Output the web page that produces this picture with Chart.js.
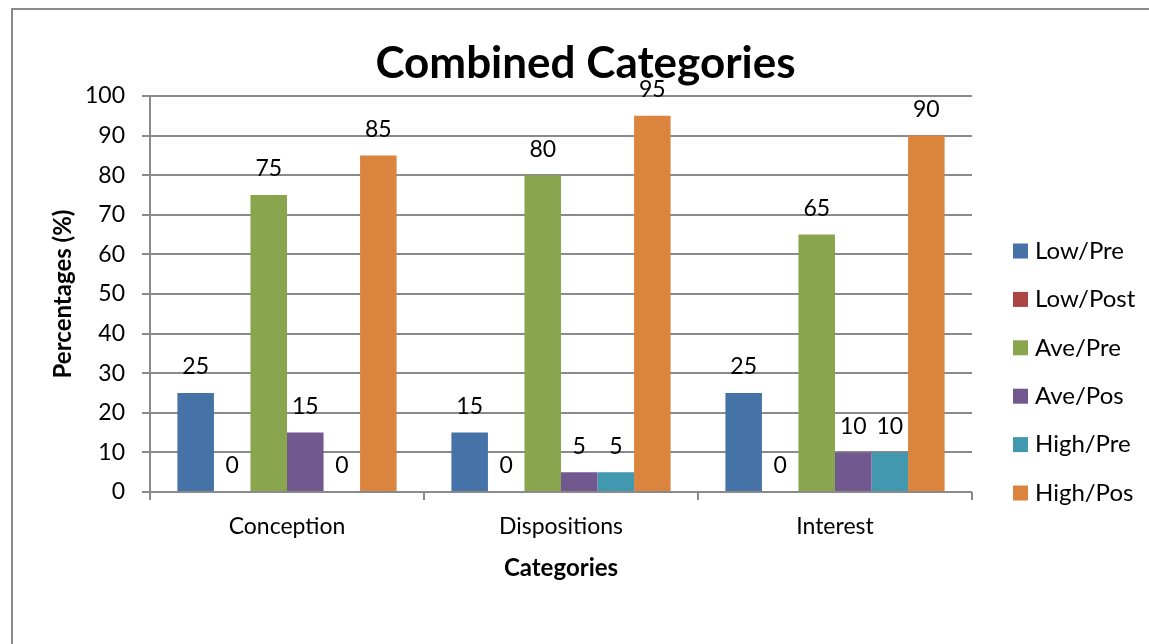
<!DOCTYPE html>
<html lang="en">
  <head>
    <meta charset="UTF-8" />
    <title>Combined Categories</title>
    <script src="https://cdn.jsdelivr.net/npm/chart.js@4.4.1/dist/chart.umd.min.js"></script>
    <style>
      body { margin: 0; background: #fff; }
      .wrap { position: relative; width: 1149px; height: 644px; overflow: hidden; }
      .frame { position: absolute; left: 11px; top: 8px; width: 1200px; height: 700px; border: 2px solid #8a8a8a; }
      canvas { position: absolute; left: 0; top: 0; }
    </style>
  </head>
  <body>
    <div class="wrap">
      <div class="frame"></div>
      <canvas id="chart" width="1149" height="644"></canvas>
    </div>
    <script>
      const categories = ["Conception", "Dispositions", "Interest"];
      const seriesNames = ["Low/Pre", "Low/Post", "Ave/Pre", "Ave/Pos", "High/Pre", "High/Pos"];
      const lowPre = [25, 15, 25];
      const lowPost = [0, 0, 0];
      const avePre = [75, 80, 65];
      const avePos = [15, 5, 10];
      const highPre = [0, 5, 10];
      const highPos = [85, 95, 90];
      const colors = ["#4572a7", "#aa4643", "#89a54e", "#71588f", "#4198af", "#db843d"];

      const FONT = "Lato";
      const gridColor = "#8a8a8a";

      // value labels above each bar
      const valueLabels = {
        id: "valueLabels",
        afterDatasetsDraw(chart) {
          const ctx = chart.ctx;
          ctx.save();
          ctx.font = "23px " + FONT;
          ctx.fillStyle = "#000";
          ctx.textAlign = "center";
          ctx.textBaseline = "middle";
          chart.data.datasets.forEach(function (ds, i) {
            chart.getDatasetMeta(i).data.forEach(function (bar, j) {
              ctx.fillText(String(ds.data[j]), bar.x, bar.y - 26);
            });
          });
          ctx.restore();
        },
      };

      // legend on the right, Excel style
      const sideLegend = {
        id: "sideLegend",
        afterDraw(chart) {
          const ctx = chart.ctx;
          ctx.save();
          ctx.font = "24px " + FONT;
          ctx.textBaseline = "middle";
          ctx.textAlign = "left";
          chart.data.datasets.forEach(function (ds, i) {
            const y = 251 + i * 48.4;
            ctx.fillStyle = ds.backgroundColor;
            ctx.fillRect(1013, y - 7.5, 15, 15);
            ctx.fillStyle = "#000";
            ctx.fillText(ds.label, 1035, y);
          });
          ctx.restore();
        },
      };

      const seriesData = [lowPre, lowPost, avePre, avePos, highPre, highPos];
      const datasets = seriesNames.map(function (name, i) {
        return {
          label: name,
          data: seriesData[i],
          backgroundColor: colors[i],
          borderWidth: 0,
          categoryPercentage: 0.8,
          barPercentage: 1,
        };
      });

      new Chart(document.getElementById("chart"), {
        type: "bar",
        data: { labels: categories, datasets: datasets },
        options: {
          responsive: false,
          animation: false,
          layout: { padding: { left: 22, right: 0, top: 0, bottom: 0 } },
          plugins: {
            legend: { display: false },
            tooltip: { enabled: false },
            title: {
              display: true,
              text: "Combined Categories",
              color: "#000",
              font: { family: FONT, size: 44, weight: "bold" },
              padding: { top: 37, bottom: 6.2 },
            },
          },
          scales: {
            x: {
              afterFit: function (s) { s.height = 152; },
              grid: { display: true, drawOnChartArea: false, drawTicks: true, tickLength: 8, offset: true, color: gridColor, lineWidth: 2 },
              border: { display: false },
              ticks: { color: "#000", font: { family: FONT, size: 23 }, padding: 13 },
              title: {
                display: true,
                text: "Categories",
                color: "#000",
                font: { family: FONT, size: 24, weight: "bold" },
                padding: { top: 0, bottom: 61.6 },
              },
            },
            y: {
              min: 0,
              max: 100,
              afterFit: function (s) { s.width = 128; },
              ticks: { stepSize: 10, color: "#000", font: { family: FONT, size: 23 }, padding: 17 },
              grid: { color: gridColor, lineWidth: 2, tickLength: 8 },
              border: { display: true, color: gridColor, width: 2 },
              title: {
                display: true,
                text: "Percentages (%)",
                color: "#000",
                font: { family: FONT, size: 24, weight: "bold" },
                padding: { top: 26.6, bottom: 0 },
              },
            },
            y2: {
              position: "right",
              display: true,
              afterFit: function (s) { s.width = 177; },
              grid: { display: false },
              border: { display: false },
              ticks: { display: false },
            },
          },
        },
        plugins: [valueLabels, sideLegend],
      });
    </script>
  </body>
</html>
